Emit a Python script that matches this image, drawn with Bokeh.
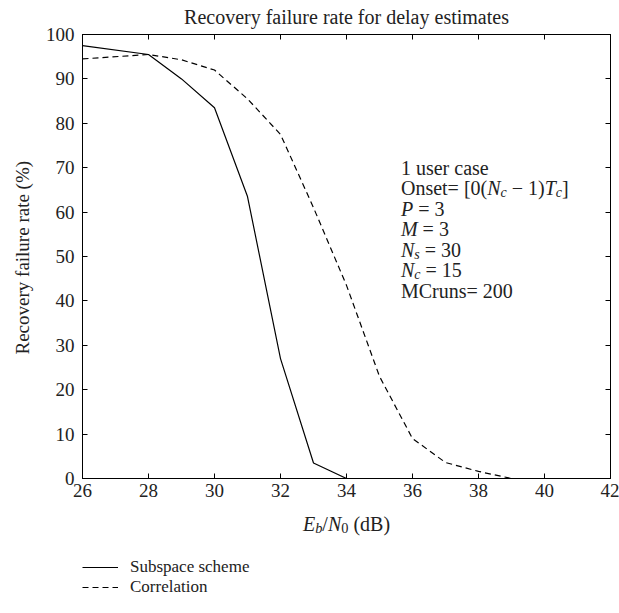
import math
from bokeh.plotting import figure
from bokeh.layouts import column
from bokeh.models import Range1d, FixedTicker, LinearAxis, Label, Legend, LegendItem, Title
from bokeh.embed import file_html
from bokeh.resources import INLINE

# ---- data ----
ebn0 = [26, 28, 29, 30, 31, 32, 33, 34, 35, 36, 37, 38, 39, 40, 41, 42]
subspace = [97.5, 95.5, 90.0, 83.5, 63.5, 27.0, 3.5, 0, 0, 0, 0, 0, 0, 0, 0, 0]
correlation = [94.5, 95.5, 94.3, 92.0, 85.5, 77.5, 61.0, 43.5, 23.0, 9.0, 3.6, 1.6, 0, 0, 0, 0]
x_ticks = [26, 28, 30, 32, 34, 36, 38, 40, 42]
y_ticks = [0, 10, 20, 30, 40, 50, 60, 70, 80, 90, 100]
series_names = ["Subspace scheme", "Correlation"]
title_text = "Recovery failure rate for delay estimates"
y_label_text = "Recovery failure rate (%)"

FONT = "Liberation Serif"
TXT = "#222222"

# ---------------- main plot ----------------
p = figure(width=619, height=503, output_backend="svg", toolbar_location=None,
           x_range=Range1d(26, 42), y_range=Range1d(0, 100),
           min_border_left=80, min_border_right=9, min_border_top=33, min_border_bottom=25,
           x_axis_location=None, y_axis_location=None, title=title_text)
p.xgrid.visible = False
p.ygrid.visible = False
p.outline_line_color = "black"
p.outline_line_width = 1
p.background_fill_color = "white"
p.border_fill_color = "white"
p.title.text_font = FONT
p.title.text_font_size = "20px"
p.title.text_font_style = "normal"
p.title.text_color = TXT
p.title.align = "center"
p.title.vertical_align = "top"
p.title.standoff = 10


def style_axis(ax, ticks, show_labels, standoff):
    ax.ticker = FixedTicker(ticks=ticks)
    ax.major_tick_in = 5
    ax.major_tick_out = 0
    ax.minor_tick_line_color = None
    ax.axis_line_color = "black"
    ax.major_tick_line_color = "black"
    ax.major_label_text_font = FONT
    ax.major_label_text_font_size = "19px"
    ax.major_label_text_color = TXT
    ax.major_label_standoff = standoff
    if not show_labels:
        ax.major_label_overrides = {t: "" for t in ticks}
        ax.major_label_standoff = 0


bottom = LinearAxis()
style_axis(bottom, x_ticks, True, 5)
p.add_layout(bottom, "below")
left = LinearAxis()
style_axis(left, y_ticks, True, 8)
p.add_layout(left, "left")
top = LinearAxis()
style_axis(top, x_ticks, False, 0)
p.add_layout(top, "above")
right = LinearAxis()
style_axis(right, y_ticks, False, 0)
p.add_layout(right, "right")

ylab = Title(text=y_label_text, align="left", text_font=FONT, text_font_size="19px",
             text_font_style="normal", text_color=TXT, standoff=19, offset=124)
p.add_layout(ylab, "left")

p.line(ebn0, subspace, line_color="black", line_width=1.2)
p.line(ebn0, correlation, line_color="black", line_width=1.2, line_dash="6 4")

# approximate Times-like advance widths (em units)
REG = {" ": .25, "\u00a0": .25, "=": .564, "[": .333, "]": .333, "(": .333, ")": .333,
       "\u2212": .564, "/": .278, "O": .722, "n": .5, "s": .389, "e": .444, "t": .278,
       "d": .5, "B": .667}
ITA = {"N": .667, "T": .556, "P": .611, "M": .833, "E": .611, "c": .444, "s": .389, "b": .5}


def seg_width(text, italic, size):
    tbl = ITA if italic else REG
    return sum(tbl.get(ch, .5) for ch in text) * size


def rich(fig, x, y, segs, size, x_off=0, y_off=0, center=False, sub_scale=0.7):
    sizes = [size * sub_scale if sub else size for _, _, sub in segs]
    widths = [seg_width(t, it, s) for (t, it, _), s in zip(segs, sizes)]
    cur = x_off - (sum(widths) / 2 if center else 0)
    for (text, italic, sub), s, w in zip(segs, sizes, widths):
        fig.add_layout(Label(x=x, y=y, x_offset=cur, y_offset=y_off - (0.22 * size if sub else 0),
                             text=text.replace(" ", "\u00a0"), text_font=FONT,
                             text_font_size=f"{s:.1f}px",
                             text_font_style="italic" if italic else "normal",
                             text_color=TXT, text_baseline="alphabetic", text_align="left"))
        cur += w


# annotation block inside the axes
ann = [
    [("1 user case", False, False)],
    [("Onset= [0(", False, False), ("N", True, False), ("c", True, True),
     (" \u2212 1)", False, False), ("T", True, False), ("c", True, True), ("]", False, False)],
    [("P", True, False), (" = 3", False, False)],
    [("M", True, False), (" = 3", False, False)],
    [("N", True, False), ("s", True, True), (" = 30", False, False)],
    [("N", True, False), ("c", True, True), (" = 15", False, False)],
    [("MCruns= 200", False, False)],
]
for i, line in enumerate(ann):
    rich(p, 35.65, 70, line, 20, y_off=-i * 20.5)

# ---------------- caption strip: x label + legend ----------------
cap = figure(width=619, height=110, output_backend="svg", toolbar_location=None,
             x_range=Range1d(80, 610), y_range=Range1d(110, 0),
             min_border_left=80, min_border_right=9, min_border_top=0, min_border_bottom=0,
             x_axis_location=None, y_axis_location=None)
cap.xgrid.visible = False
cap.ygrid.visible = False
cap.outline_line_color = None
cap.background_fill_color = "white"
cap.border_fill_color = "white"

rich(cap, 345, 20, [("E", True, False), ("b", True, True), ("/", False, False), ("N", True, False),
                    ("0", False, True), (" (dB)", False, False)], 20, center=True, sub_scale=0.72)

cap.extra_y_ranges = {"key": Range1d(1000, 2000)}
k1 = cap.line(ebn0, subspace, line_color="black", line_width=1.2, y_range_name="key")
k2 = cap.line(ebn0, correlation, line_color="black", line_width=1.2, line_dash="6 4",
              y_range_name="key")
legend = Legend(items=[LegendItem(label=series_names[0], renderers=[k1]),
                       LegendItem(label=series_names[1], renderers=[k2])],
                location=(0, 16), background_fill_alpha=0, border_line_alpha=0,
                glyph_width=36, glyph_height=18, label_height=18, label_standoff=12,
                padding=0, margin=0, spacing=0,
                label_text_font=FONT, label_text_font_size="17px",
                label_text_color=TXT)
cap.add_layout(legend)

layout = column(p, cap, spacing=0)
open("out.html", "w").write(file_html(layout, INLINE))
